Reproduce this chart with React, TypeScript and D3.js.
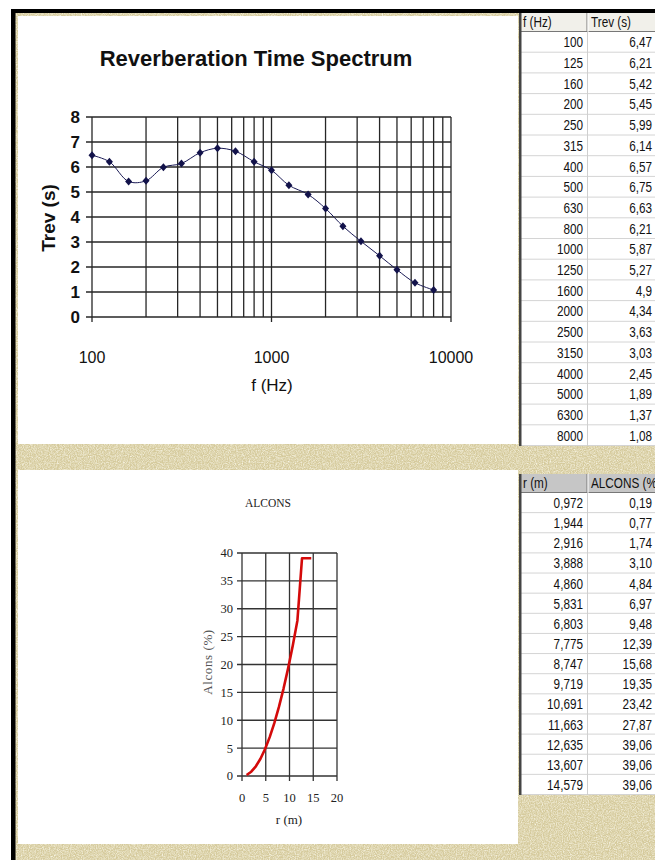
import * as d3 from 'd3'

const FREQ = [100, 125, 160, 200, 250, 315, 400, 500, 630, 800, 1000, 1250, 1600, 2000, 2500, 3150, 4000, 5000, 6300, 8000]
const TREV = [6.47, 6.21, 5.42, 5.45, 5.99, 6.14, 6.57, 6.75, 6.63, 6.21, 5.87, 5.27, 4.9, 4.34, 3.63, 3.03, 2.45, 1.89, 1.37, 1.08]
const R_DIST = [0.972, 1.944, 2.916, 3.888, 4.86, 5.831, 6.803, 7.775, 8.747, 9.719, 10.691, 11.663, 12.635, 13.607, 14.579]
const ALCONS = [0.19, 0.77, 1.74, 3.1, 4.84, 6.97, 9.48, 12.39, 15.68, 19.35, 23.42, 27.87, 39.06, 39.06, 39.06]
const TOP_HEAD = ['f (Hz)', 'Trev (s)']
const BOT_HEAD = ['r (m)', 'ALCONS (%)']
const X_LABELS = [100, 1000, 10000]

const W = 655, H = 860
const comma = (s: string) => s.replace('.', ',')
const narrow = "'Liberation Sans', Arial, sans-serif"

function Table({ top, bottom, head, rows, headFill }: { top: number; bottom: number; head: string[]; rows: string[][]; headFill: string }) {
  const x0 = 520, xm = 587, x1 = 655, headH = 19
  const y = d3.scaleBand<number>().domain(d3.range(rows.length)).range([top + headH, bottom])
  const txt = (s: string, x: number, yy: number, anchor: string) => (
    <text transform={`translate(${x},${yy}) scale(0.84,1)`} textAnchor={anchor} fontFamily={narrow} fontSize={14} fill="#111">{s}</text>
  )
  return (
    <g>
      <rect x={x0} y={top} width={x1 - x0} height={bottom - top} fill="#fff" />
      <rect x={x0} y={top} width={x1 - x0} height={headH} fill={headFill} />
      <line x1={x0} x2={x1} y1={top + headH - 0.5} y2={top + headH - 0.5} stroke="#777" />
      <line x1={xm} x2={xm} y1={top} y2={top + headH} stroke="#777" />
      <line x1={xm + 1} x2={xm + 1} y1={top} y2={top + headH} stroke="#fff" />
      {txt(head[0], x0 + 3, top + 14, 'start')}
      {txt(head[1], xm + 4, top + 14, 'start')}
      {rows.map((r, i) => (
        <g key={i}>
          <line x1={x0} x2={x1} y1={y(i)! + y.bandwidth() - 0.5} y2={y(i)! + y.bandwidth() - 0.5} stroke="#d4d4d4" />
          {txt(r[0], xm - 4, y(i)! + y.bandwidth() / 2 + 5, 'end')}
          {txt(r[1], x1 - 3, y(i)! + y.bandwidth() / 2 + 5, 'end')}
        </g>
      ))}
      <line x1={xm + 0.5} x2={xm + 0.5} y1={top + headH} y2={bottom} stroke="#cfcfcf" />
      <rect x={x0 - 1} y={top} width={2.5} height={bottom - top} fill="#444" />
    </g>
  )
}

function TopChart() {
  const x = d3.scaleLog().domain([100, 10000]).range([92, 451])
  const y = d3.scaleLinear().domain([0, 8]).range([317, 117])
  const pts = FREQ.map((f, i) => [x(f), y(TREV[i])] as [number, number])
  const line = d3.line().curve(d3.curveCatmullRom.alpha(0.5))
  const grid = '#262626'
  return (
    <g fontFamily="Arial, 'Liberation Sans', sans-serif">
      <text x={256} y={66} textAnchor="middle" fontSize={22} fontWeight="bold" fill="#111">Reverberation Time Spectrum</text>
      {x.ticks().map(t => (
        <line key={t} x1={x(t)} x2={x(t)} y1={y(8)} y2={y(0)} stroke={grid} strokeWidth={1.3} />
      ))}
      {y.ticks(8).map(t => (
        <g key={t}>
          <line x1={86} x2={x(10000)} y1={y(t)} y2={y(t)} stroke={grid} strokeWidth={1.3} />
          <text x={80} y={y(t)} dy="0.36em" textAnchor="end" fontSize={17} fontWeight="bold" fill="#111">{t}</text>
        </g>
      ))}
      {X_LABELS.map(t => (
        <g key={t}>
          <line x1={x(t)} x2={x(t)} y1={y(0)} y2={y(0) + 5} stroke={grid} strokeWidth={1.3} />
          <text x={x(t)} y={363} textAnchor="middle" fontSize={16} fill="#111">{t}</text>
        </g>
      ))}
      <text x={272} y={391} textAnchor="middle" fontSize={17} fill="#111">f (Hz)</text>
      <text transform="translate(55,218) rotate(-90)" textAnchor="middle" fontSize={19} fontWeight="bold" fill="#111">Trev (s)</text>
      <path d={line(pts) || ''} fill="none" stroke="#1a1a55" strokeWidth={1} />
      {pts.map(([px, py], i) => (
        <path key={i} d={`M${px},${py - 4}L${px + 3.5},${py}L${px},${py + 4}L${px - 3.5},${py}Z`} fill="#12124a" />
      ))}
    </g>
  )
}

function BottomChart() {
  const x = d3.scaleLinear().domain([0, 20]).range([242, 337])
  const y = d3.scaleLinear().domain([0, 40]).range([776, 553])
  const line = d3.line<number>().x((_, i) => x(R_DIST[i])).y(d => y(d))
  const grid = '#333'
  const serif = "'Liberation Serif', 'Times New Roman', serif"
  return (
    <g fontFamily={serif} fill="#222">
      <text x={268} y={507} textAnchor="middle" fontSize={11.5}>ALCONS</text>
      {x.ticks(4).map(t => (
        <g key={t}>
          <line x1={x(t)} x2={x(t)} y1={y(40)} y2={y(0) + 5} stroke={grid} strokeWidth={1.3} />
          <text x={x(t)} y={802} textAnchor="middle" fontSize={12.5}>{t}</text>
        </g>
      ))}
      {y.ticks(8).map(t => (
        <g key={t}>
          <line x1={237} x2={x(20)} y1={y(t)} y2={y(t)} stroke={grid} strokeWidth={1.3} />
          <text x={233} y={y(t)} dy="0.35em" textAnchor="end" fontSize={12.5}>{t}</text>
        </g>
      ))}
      <text x={289} y={824} textAnchor="middle" fontSize={13}>r (m)</text>
      <text transform="translate(212,662) rotate(-90)" textAnchor="middle" fontSize={13} letterSpacing={0.6} fill="#555">Alcons (%)</text>
      <path d={line(ALCONS) || ''} fill="none" stroke="#d40a0a" strokeWidth={2.6} strokeLinejoin="round" />
    </g>
  )
}

export default function App() {
  const topRows = FREQ.map((f, i) => [String(f), comma(String(TREV[i]))])
  const botRows = R_DIST.map((r, i) => [comma(r.toFixed(3)), comma(ALCONS[i].toFixed(2))])
  return (
    <svg width={W} height={H} style={{ position: 'absolute', left: 0, top: 0, display: 'block' }}>
      <defs>
        <filter id="grain" x="0" y="0" width="100%" height="100%">
          <feTurbulence type="fractalNoise" baseFrequency="0.85" numOctaves="2" seed="4" />
          <feColorMatrix type="matrix" values="0 0 0 0 0.97  0 0 0 0 0.95  0 0 0 0 0.84  0 0 0 1.6 -0.55" />
        </filter>
      </defs>
      <rect width={W} height={H} fill="#fff" />
      <rect x={15} y={13} width={W - 15} height={H - 13} fill="#d5ca9c" />
      <rect x={15} y={13} width={W - 15} height={H - 13} filter="url(#grain)" />
      <rect x={11} y={9} width={W - 11} height={4} fill="#000" />
      <rect x={11} y={9} width={4.5} height={H - 9} fill="#000" />
      <rect x={18} y={16} width={500} height={428} fill="#fff" />
      <rect x={18} y={470} width={500} height={374} fill="#fff" />
      <TopChart />
      <BottomChart />
      <Table top={13} bottom={446} head={TOP_HEAD} rows={topRows} headFill="#f1f0ea" />
      <Table top={474} bottom={795} head={BOT_HEAD} rows={botRows} headFill="#c6c6c6" />
    </svg>
  )
}
